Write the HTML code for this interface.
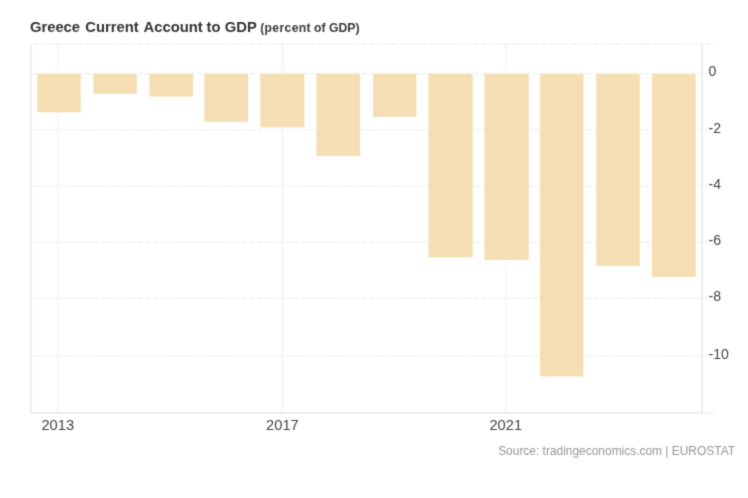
<!DOCTYPE html>
<html><head><meta charset="utf-8"><title>Greece Current Account to GDP</title>
<style>
html,body{margin:0;padding:0;background:#fff;}
body{width:748px;height:498px;position:relative;overflow:hidden;filter:url(#bl);font-family:"Liberation Sans",Arial,sans-serif;}
.t{position:absolute;white-space:nowrap;line-height:1;}
.tw{font-size:14.8px;font-weight:bold;color:#333;top:19.6px;}
.ts{font-size:12.2px;font-weight:bold;color:#383838;top:21.5px;}
.yl{font-size:14.1px;color:#444;left:708.5px;transform:scaleY(1.07);transform-origin:0 15%;}
.xl{font-size:14.7px;color:#444;width:60px;text-align:center;top:418.2px;}
.src{font-size:11.95px;color:#969696;right:13px;top:446.0px;}
</style></head><body>
<svg width="0" height="0" style="position:absolute"><filter id="bl" x="0" y="0" width="100%" height="100%" color-interpolation-filters="sRGB"><feConvolveMatrix order="3" kernelMatrix="0.0225 0.105 0.0225 0.105 0.49 0.105 0.0225 0.105 0.0225" edgeMode="duplicate" preserveAlpha="true"/></filter></svg>

<svg width="748" height="498" viewBox="0 0 748 498" style="position:absolute;left:0;top:0">
<line x1="58.0" y1="44.0" x2="58.0" y2="413.0" stroke="#fafafa" stroke-width="3.2"/>
<line x1="58.0" y1="44.0" x2="58.0" y2="413.0" stroke="#f6f6f6" stroke-width="1.4" stroke-dasharray="1.3,1.2"/>
<line x1="282.6" y1="44.0" x2="282.6" y2="413.0" stroke="#fafafa" stroke-width="3.2"/>
<line x1="282.6" y1="44.0" x2="282.6" y2="413.0" stroke="#f6f6f6" stroke-width="1.4" stroke-dasharray="1.3,1.2"/>
<line x1="506.0" y1="44.0" x2="506.0" y2="413.0" stroke="#fafafa" stroke-width="3.2"/>
<line x1="506.0" y1="44.0" x2="506.0" y2="413.0" stroke="#f6f6f6" stroke-width="1.4" stroke-dasharray="1.3,1.2"/>
<line x1="30.8" y1="44.1" x2="714.0" y2="44.1" stroke="#fcfcfc" stroke-width="2.4"/>
<line x1="30.8" y1="44.0" x2="714.0" y2="44.0" stroke="#efefef" stroke-width="1.3" stroke-dasharray="4.4,3.07" stroke-dashoffset="4.8"/>
<line x1="30.8" y1="73.8" x2="707.7" y2="73.8" stroke="#fcfcfc" stroke-width="2.4"/>
<line x1="30.8" y1="73.7" x2="707.7" y2="73.7" stroke="#efefef" stroke-width="1.3" stroke-dasharray="4.4,3.07" stroke-dashoffset="4.8"/>
<line x1="30.8" y1="130.0" x2="707.7" y2="130.0" stroke="#fcfcfc" stroke-width="2.4"/>
<line x1="30.8" y1="129.9" x2="707.7" y2="129.9" stroke="#efefef" stroke-width="1.3" stroke-dasharray="4.4,3.07" stroke-dashoffset="4.8"/>
<line x1="30.8" y1="186.2" x2="707.7" y2="186.2" stroke="#fcfcfc" stroke-width="2.4"/>
<line x1="30.8" y1="186.1" x2="707.7" y2="186.1" stroke="#efefef" stroke-width="1.3" stroke-dasharray="4.4,3.07" stroke-dashoffset="4.8"/>
<line x1="30.8" y1="242.4" x2="707.7" y2="242.4" stroke="#fcfcfc" stroke-width="2.4"/>
<line x1="30.8" y1="242.3" x2="707.7" y2="242.3" stroke="#efefef" stroke-width="1.3" stroke-dasharray="4.4,3.07" stroke-dashoffset="4.8"/>
<line x1="30.8" y1="298.5" x2="707.7" y2="298.5" stroke="#fcfcfc" stroke-width="2.4"/>
<line x1="30.8" y1="298.4" x2="707.7" y2="298.4" stroke="#efefef" stroke-width="1.3" stroke-dasharray="4.4,3.07" stroke-dashoffset="4.8"/>
<line x1="30.8" y1="356.3" x2="707.7" y2="356.3" stroke="#fcfcfc" stroke-width="2.4"/>
<line x1="30.8" y1="356.2" x2="707.7" y2="356.2" stroke="#efefef" stroke-width="1.3" stroke-dasharray="4.4,3.07" stroke-dashoffset="4.8"/>
<rect x="37.2" y="73.9" width="43.5" height="38.4" fill="#f5deb3"/>
<rect x="93.5" y="73.9" width="43.4" height="19.9" fill="#f5deb3"/>
<rect x="149.5" y="73.9" width="43.5" height="22.7" fill="#f5deb3"/>
<rect x="204.3" y="73.9" width="44.0" height="47.8" fill="#f5deb3"/>
<rect x="260.3" y="73.9" width="44.1" height="53.3" fill="#f5deb3"/>
<rect x="316.4" y="73.9" width="43.8" height="82.2" fill="#f5deb3"/>
<rect x="373.0" y="73.9" width="43.4" height="42.8" fill="#f5deb3"/>
<rect x="428.4" y="73.9" width="44.3" height="183.4" fill="#f5deb3"/>
<rect x="484.5" y="73.9" width="44.2" height="186.1" fill="#f5deb3"/>
<rect x="539.9" y="73.9" width="43.6" height="302.5" fill="#f5deb3"/>
<rect x="596.2" y="73.9" width="43.5" height="192.1" fill="#f5deb3"/>
<rect x="652.0" y="73.9" width="43.8" height="203.0" fill="#f5deb3"/>
<line x1="30.8" y1="44.0" x2="30.8" y2="413.0" stroke="#e8e8e8" stroke-width="1.5"/>
<line x1="702.2" y1="44.0" x2="702.2" y2="413.0" stroke="#e8e8e8" stroke-width="1.5"/>
<line x1="30.1" y1="413.0" x2="702.9000000000001" y2="413.0" stroke="#e8e8e8" stroke-width="1.5"/>
<line x1="702.9000000000001" y1="413.0" x2="714.0" y2="413.0" stroke="#f1f1f1" stroke-width="1.5"/>
</svg>
<span class="t tw" style="left:29.9px">Greece</span>
<span class="t tw" style="left:85.3px">Current</span>
<span class="t tw" style="left:143.6px">Account</span>
<span class="t tw" style="left:206.5px">to</span>
<span class="t tw" style="left:224.8px">GDP</span>
<span class="t ts" style="left:260.2px;letter-spacing:0.34px">(percent</span>
<span class="t ts" style="left:314.0px">of</span>
<span class="t ts" style="left:329.0px">GDP)</span>
<div class="t yl" style="top:63.3px">0</div>
<div class="t yl" style="top:119.5px">-2</div>
<div class="t yl" style="top:175.7px">-4</div>
<div class="t yl" style="top:231.9px">-6</div>
<div class="t yl" style="top:288.0px">-8</div>
<div class="t yl" style="top:345.8px">-10</div>
<div class="t xl" style="left:27.8px">2013</div>
<div class="t xl" style="left:252.4px">2017</div>
<div class="t xl" style="left:475.8px">2021</div>
<div class="t src">Source: tradingeconomics.com | EUROSTAT</div>
</body></html>
